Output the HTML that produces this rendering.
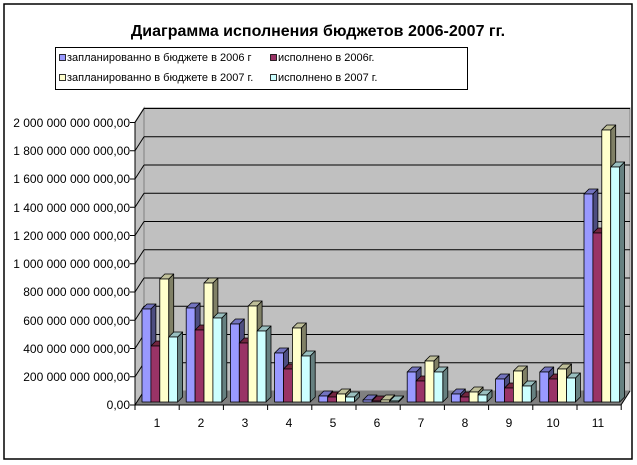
<!DOCTYPE html>
<html><head><meta charset="utf-8"><style>
html,body{margin:0;padding:0;background:#fff}
svg{display:block}
text{font-family:"Liberation Sans",Arial,sans-serif}
</style></head><body>
<svg id="s" width="637" height="465" viewBox="0 0 637 465" xmlns="http://www.w3.org/2000/svg">
<rect x="4" y="4" width="628" height="455" fill="#fff" stroke="#000" stroke-width="1.5"/>
<text x="318" y="36" text-anchor="middle" font-size="16" font-weight="bold">Диаграмма исполнения бюджетов 2006-2007 гг.</text>
<rect x="55.5" y="47.5" width="412" height="42" fill="#fff" stroke="#000"/>
<rect x="59.5" y="54.5" width="6" height="6" fill="#9999ff" stroke="#000" stroke-width="0.8"/>
<text x="67" y="61" font-size="11">запланированно в бюджете в 2006 г</text>
<rect x="270.5" y="54.5" width="6" height="6" fill="#993366" stroke="#000" stroke-width="0.8"/>
<text x="278" y="61" font-size="11">исполнено в 2006г.</text>
<rect x="59.5" y="74.5" width="6" height="6" fill="#ffffcc" stroke="#000" stroke-width="0.8"/>
<text x="67" y="81" font-size="11">запланированно в бюджете в 2007 г.</text>
<rect x="270.5" y="74.5" width="6" height="6" fill="#ccffff" stroke="#000" stroke-width="0.8"/>
<text x="278" y="81" font-size="11">исполнено в 2007 г.</text>
<!-- walls -->
<polygon points="144,108 630,108 630,391 144,391" fill="#c0c0c0" stroke="#808080"/>
<polygon points="135,122 144,108 144,391 135,405" fill="#c0c0c0" stroke="#808080"/>
<polygon points="135,405 144,391 630,391 621,405" fill="#808080"/>
<g id="grid" stroke="#000" stroke-width="1"></g>
<g id="bars" stroke="#000" stroke-width="0.8" stroke-linejoin="round"></g>
<line x1="135" y1="122" x2="135" y2="405" stroke="#000"/>
<line x1="135" y1="405" x2="621" y2="405" stroke="#000"/>
<line x1="621" y1="405" x2="630" y2="391" stroke="#000"/>
<g id="lab" font-size="12" text-anchor="end">
<text x="130" y="127">2 000 000 000 000,00</text>
<text x="130" y="155">1 800 000 000 000,00</text>
<text x="130" y="183">1 600 000 000 000,00</text>
<text x="130" y="212">1 400 000 000 000,00</text>
<text x="130" y="240">1 200 000 000 000,00</text>
<text x="130" y="268">1 000 000 000 000,00</text>
<text x="130" y="296">800 000 000 000,00</text>
<text x="130" y="325">600 000 000 000,00</text>
<text x="130" y="353">400 000 000 000,00</text>
<text x="130" y="381">200 000 000 000,00</text>
<text x="130" y="409">0,00</text>
</g>
<g font-size="12" text-anchor="middle">
<text x="157" y="427">1</text><text x="201" y="427">2</text><text x="245" y="427">3</text><text x="289" y="427">4</text><text x="333" y="427">5</text><text x="377" y="427">6</text><text x="421" y="427">7</text><text x="465" y="427">8</text><text x="509" y="427">9</text><text x="553" y="427">10</text><text x="598" y="427">11</text>
</g>
</svg>
<script>
(function(){
var NS="http://www.w3.org/2000/svg";
function el(p,t,a){var e=document.createElementNS(NS,t);for(var k in a)e.setAttribute(k,a[k]);p.appendChild(e);return e;}
var g=document.getElementById('grid');
for(var i=0;i<=10;i++){
  var y=405-i*28.25;
  el(g,'line',{x1:130,y1:y,x2:135,y2:y});
  el(g,'line',{x1:135,y1:y,x2:144,y2:y-14});
  if(i>0) el(g,'line',{x1:144,y1:y-14,x2:630,y2:y-14});
}
for(var c=0;c<=11;c++){var x=135+c*44.2;el(g,'line',{x1:x,y1:405,x2:x,y2:410});}
var tops=[[309,346,279,337],[308,330,283,318],[324,343,306,331],[353,369,328,356],[396,397,394,397],[400,401,400,401],[372,381,361,372],[394,397,392,395],[379,388,371,386],[372,379,369,378],[194,233,130,167]];
var cols=[["#9999ff","#4d4d80","#7373bf"],["#993366","#4d1a33","#732640"],["#ffffcc","#808066","#bfbf99"],["#ccffff","#668080","#99bfbf"]];
var b=document.getElementById('bars');
var base=402,w=8.9,d=5;
for(var c=0;c<11;c++){
  for(var s=0;s<4;s++){
    var x=142+c*44.2+s*w,t=tops[c][s],co=cols[s];
    el(b,'polygon',{points:[x+w,base,x+w+d,base-d,x+w+d,t-d,x+w,t].join(' '),fill:co[1]});
    el(b,'polygon',{points:[x,t,x+d,t-d,x+w+d,t-d,x+w,t].join(' '),fill:co[2]});
    el(b,'rect',{x:x,y:t,width:w,height:base-t,fill:co[0]});
  }
}
})();
</script>
</body></html>
